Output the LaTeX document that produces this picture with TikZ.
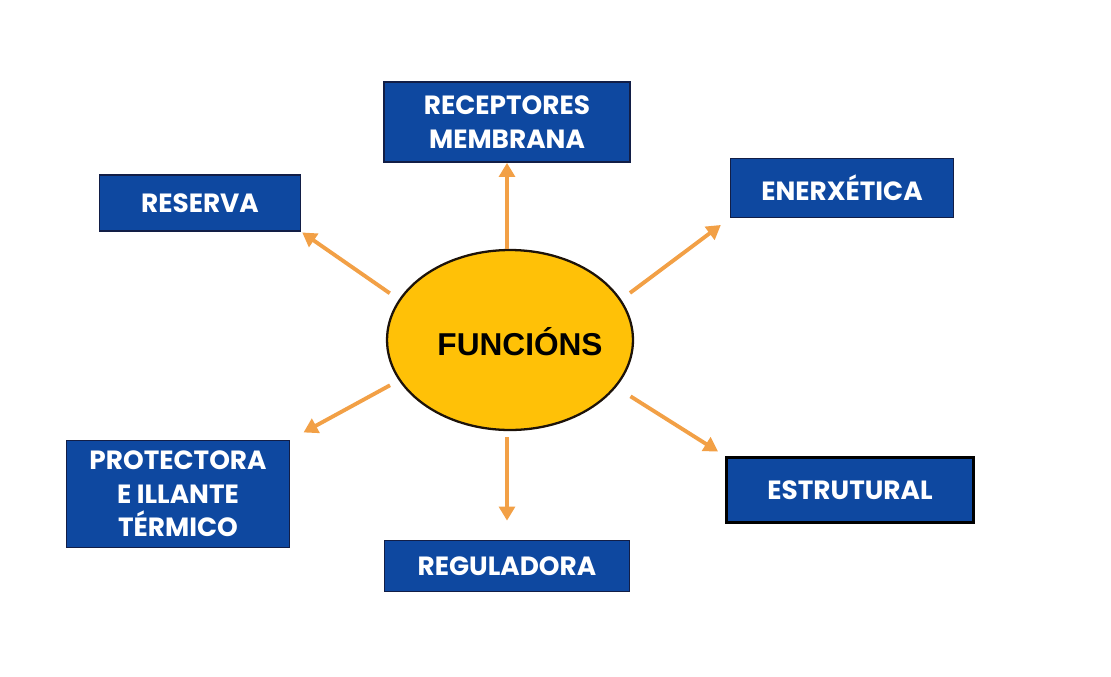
\documentclass[tikz,border=0pt]{standalone}
\usepackage{fontspec}
\setmainfont{Liberation Sans}
\newfontfamily\boxfont{Poppins}
\usetikzlibrary{shapes.geometric,arrows.meta}

\definecolor{boxblue}{RGB}{14,72,160}
\definecolor{boxedge}{RGB}{18,30,70}
\definecolor{fnyellow}{RGB}{255,193,7}
\definecolor{arrorange}{RGB}{242,160,70}

\tikzset{
  funcbox/.style={draw=boxedge, line width=1pt, fill=boxblue, text=white,
    align=center, inner sep=0pt, font=\boxfont\bfseries\fontsize{15}{19}\selectfont},
  funcarrow/.style={draw=arrorange, line width=2.2pt, -{Triangle[length=8pt,width=9pt]}}
}

\begin{document}
\begin{tikzpicture}[x=0.02cm, y=-0.02cm]
		\useasboundingbox (0,0) rectangle (1111,676);
		% Centre and boxes:
		\node[ellipse, draw=black!85!brown, line width=1.3pt, fill=fnyellow, minimum width=4.92cm, minimum height=3.6cm] (fn) at (510,340){};
		\node[font=\bfseries\fontsize{18}{22}\selectfont] (fntext) at (520,342){FUNCIÓNS};
		\node[funcbox, minimum width=4.92cm, minimum height=1.6cm] (rec) at (507,122){RECEPTORES\\MEMBRANA};
		\node[funcbox, minimum width=4.02cm, minimum height=1.12cm] (res) at (200,203){RESERVA};
		\node[funcbox, minimum width=4.46cm, minimum height=1.18cm] (ene) at (842,188){ENERXÉTICA};
		\node[funcbox, minimum width=4.46cm, minimum height=2.14cm] (pro) at (178,494){PROTECTORA\\E ILLANTE\\TÉRMICO};
		\node[funcbox, draw=black, line width=2pt, minimum width=4.94cm, minimum height=1.3cm] (est) at (850,490){ESTRUTURAL};
		\node[funcbox, minimum width=4.9cm, minimum height=1.02cm] (reg) at (507,566){REGULADORA};
		% Arrows:
		\draw[funcarrow] (rec.south |- fn.north) -- (rec.south);
		\draw[funcarrow, shorten <=0.22cm, shorten >=0.02cm] (fn.160) -- (res.south east);
		\draw[funcarrow, shorten <=0.22cm, shorten >=0.22cm] (fn.20) -- (ene.south west);
		\draw[funcarrow, shorten <=0.2cm, shorten >=0.3cm] (fn.200) -- (pro.north east);
		\draw[funcarrow, shorten <=0.34cm, shorten >=0.16cm] (fn.336) -- (est.north west);
		\draw[funcarrow, shorten <=0.12cm, shorten >=0.38cm] (reg.north |- fn.south) -- (reg.north);
	\end{tikzpicture}
\end{document}
